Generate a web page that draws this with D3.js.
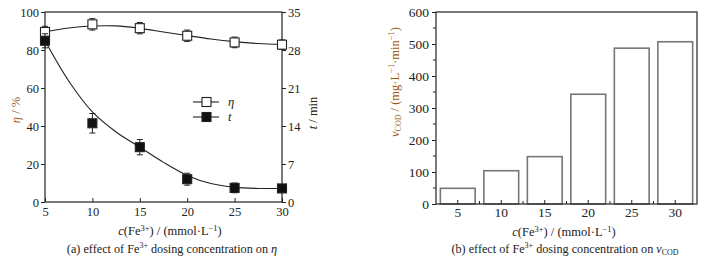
<!DOCTYPE html>
<html>
<head>
<meta charset="utf-8">
<script src="https://cdn.jsdelivr.net/npm/d3@7"></script>
<style>
  body { margin: 0; background: #fff; }
  svg { font-family: "Liberation Serif", "Times New Roman", serif; }
</style>
</head>
<body>
<svg id="chart" width="708" height="262"></svg>
<script>
// 投加浓度 c(Fe3+) / (mmol·L-1)
const doses = [5, 10, 15, 20, 25, 30];

// (a) 去除率 η (%) 与时间 t (min)
const etaValues = [89.5, 93.5, 91.5, 87.5, 84.0, 82.8];
const etaErr    = [3.0, 3.0, 3.0, 3.0, 2.8, 2.5];
const tValues   = [29.7, 14.5, 10.1, 4.2, 2.6, 2.5];
const tErr      = [1.3, 1.8, 1.4, 1.1, 0.9, 0.6];

// 拟合曲线
const etaFitX = [5, 7.5, 10, 12.5, 15, 17.5, 20, 22.5, 25, 27.5, 30];
const etaFitY = [89.5, 91.6, 92.6, 92.7, 91.4, 89.5, 87.6, 85.8, 84.4, 83.4, 82.8];
const tFitX   = [5, 7.5, 10, 12.5, 15, 17.5, 20, 22.5, 25, 27.5, 30];
const tFitY   = [29.7, 22.3, 16.6, 12.9, 10.1, 7.3, 4.9, 3.4, 2.7, 2.5, 2.5];

const etaTicks = [0, 20, 40, 60, 80, 100];
const tTicks   = [0, 7, 14, 21, 28, 35];

// (b) 速率 vCOD
const vcodValues = [49, 104, 148, 343, 487, 507];
const vcodTicks  = [0, 100, 200, 300, 400, 500, 600];

const svg = d3.select("#chart");
const labelColor = "#9a5b22";
const textColor = "#222";

// ---------- (a) ----------
const xA = d3.scaleLinear().domain([5, 30]).range([45, 282]);
const yEta = d3.scaleLinear().domain([0, 100]).range([202, 12]);
const yT = d3.scaleLinear().domain([0, 35]).range([202, 12]);

const gA = svg.append("g");

// 边框
gA.append("rect").attr("x", xA(5)).attr("y", yEta(100))
  .attr("width", xA(30) - xA(5)).attr("height", yEta(0) - yEta(100))
  .attr("fill", "none").attr("stroke", "#222").attr("stroke-width", 1.2);

const axL = gA.append("g").attr("transform", `translate(${xA(5)},0)`)
  .call(d3.axisLeft(yEta).tickValues(etaTicks).tickSize(4).tickPadding(2));
const axR = gA.append("g").attr("transform", `translate(${xA(30)},0)`)
  .call(d3.axisRight(yT).tickValues(tTicks).tickSize(4).tickPadding(2));
const axB = gA.append("g").attr("transform", `translate(0,${yEta(0)})`)
  .call(d3.axisBottom(xA).tickValues(doses).tickSize(-4).tickPadding(5));
[axL, axR, axB].forEach(a => {
  a.select(".domain").remove();
  a.selectAll("line").attr("stroke", "#222");
  a.selectAll("text").attr("fill", textColor).style("font-size", "12.5px")
    .style("font-family", "Liberation Serif, serif");
});
axL.selectAll("text").attr("dy", "0.35em");
axR.selectAll("text").attr("dy", "0.35em");
axB.selectAll("text").attr("dy", "0.75em");

// 曲线
const etaLine = d3.line().x(d => xA(d[0])).y(d => yEta(d[1])).curve(d3.curveCatmullRom);
const tLine = d3.line().x(d => xA(d[0])).y(d => yT(d[1])).curve(d3.curveCatmullRom);
gA.append("path").datum(etaFitX.map((x, i) => [x, etaFitY[i]]))
  .attr("d", etaLine).attr("fill", "none").attr("stroke", "#222").attr("stroke-width", 1.1);
gA.append("path").datum(tFitX.map((x, i) => [x, tFitY[i]]))
  .attr("d", tLine).attr("fill", "none").attr("stroke", "#222").attr("stroke-width", 1.1);

// 误差棒 + 标记
function drawSeries(vals, errs, y, filled) {
  const g = gA.append("g");
  doses.forEach((d, i) => {
    const cx = xA(d);
    const top = y(vals[i] + errs[i]), bot = y(vals[i] - errs[i]);
    g.append("line").attr("x1", cx).attr("x2", cx).attr("y1", top).attr("y2", bot)
      .attr("stroke", "#222").attr("stroke-width", 1);
    [top, bot].forEach(yy => g.append("line").attr("x1", cx - 3).attr("x2", cx + 3)
      .attr("y1", yy).attr("y2", yy).attr("stroke", "#222").attr("stroke-width", 1));
    g.append("rect").attr("x", cx - 4.5).attr("y", y(vals[i]) - 4.5)
      .attr("width", 9).attr("height", 9)
      .attr("fill", filled ? "#111" : "#fff").attr("stroke", "#222").attr("stroke-width", 1.1);
  });
}
drawSeries(etaValues, etaErr, yEta, false);
drawSeries(tValues, tErr, yT, true);

// 图例
const legend = gA.append("g").attr("transform", "translate(193,102)");
[["η", false], ["t", true]].forEach(([name, filled], i) => {
  const row = legend.append("g").attr("transform", `translate(0,${i * 15})`);
  row.append("line").attr("x1", 0).attr("x2", 26).attr("stroke", "#222").attr("stroke-width", 1.1);
  row.append("rect").attr("x", 9).attr("y", -4.5).attr("width", 9).attr("height", 9)
    .attr("fill", filled ? "#111" : "#fff").attr("stroke", "#222").attr("stroke-width", 1.1);
  row.append("text").attr("x", 35).attr("dy", "0.35em").attr("fill", textColor)
    .style("font-size", "12.5px").style("font-style", "italic").text(name);
});

// 轴标签
const etaLabel = gA.append("text").attr("transform", "translate(20,110) rotate(-90)")
  .attr("text-anchor", "middle").attr("fill", labelColor).style("font-size", "12.5px");
etaLabel.append("tspan").style("font-style", "italic").text("η");
etaLabel.append("tspan").text(" / %");

const tLabel = gA.append("text").attr("transform", "translate(317,113) rotate(-90)")
  .attr("text-anchor", "middle").attr("fill", textColor).style("font-size", "12.5px");
tLabel.append("tspan").style("font-style", "italic").text("t");
tLabel.append("tspan").text(" / min");

function concLabel(g, cx, y) {
  const t = g.append("text").attr("x", cx).attr("y", y).attr("text-anchor", "middle")
    .attr("fill", textColor).style("font-size", "12.5px");
  t.append("tspan").style("font-style", "italic").text("c");
  t.append("tspan").text("(Fe");
  t.append("tspan").attr("dy", "-4.5").style("font-size", "8.5px").text("3+");
  t.append("tspan").attr("dy", "4.5").text(") / (mmol·L");
  t.append("tspan").attr("dy", "-4.5").style("font-size", "8.5px").text("−1");
  t.append("tspan").attr("dy", "4.5").text(")");
}
concLabel(gA, 170, 235);

const capA = gA.append("text").attr("x", 172).attr("y", 253).attr("text-anchor", "middle")
  .attr("fill", textColor).style("font-size", "12.2px");
capA.append("tspan").text("(a) effect of Fe");
capA.append("tspan").attr("dy", "-5").style("font-size", "8px").text("3+");
capA.append("tspan").attr("dy", "5").text(" dosing concentration on ");
capA.append("tspan").style("font-style", "italic").text("η");

// ---------- (b) ----------
const xB = d3.scaleBand().domain(doses).range([436, 697]).paddingInner(0.2).paddingOuter(0.1);
const yB = d3.scaleLinear().domain([0, 600]).range([204, 12]);
const gB = svg.append("g");

gB.selectAll("rect.bar").data(doses).join("rect").attr("class", "bar")
  .attr("x", d => xB(d)).attr("y", (d, i) => yB(vcodValues[i]))
  .attr("width", xB.bandwidth()).attr("height", (d, i) => yB(0) - yB(vcodValues[i]))
  .attr("fill", "#fff").attr("stroke", "#777").attr("stroke-width", 1.6);

gB.append("rect").attr("x", 436).attr("y", yB(600))
  .attr("width", 697 - 436).attr("height", yB(0) - yB(600))
  .attr("fill", "none").attr("stroke", "#222").attr("stroke-width", 1.2);

const axBL = gB.append("g").attr("transform", "translate(436,0)")
  .call(d3.axisLeft(yB).tickValues(vcodTicks).tickSize(4).tickPadding(3));
const minorB = d3.range(50, 600, 100);
gB.append("g").selectAll("line").data(minorB).join("line")
  .attr("x1", 436).attr("x2", 433).attr("y1", d => yB(d)).attr("y2", d => yB(d))
  .attr("stroke", "#222");
const axBB = gB.append("g").attr("transform", `translate(0,${yB(0)})`)
  .call(d3.axisBottom(xB).tickSize(-4).tickPadding(3));
gB.append("g").selectAll("line").data(doses.slice(0, -1)).join("line")
  .attr("x1", d => xB(d) + xB.step() - (xB.step() - xB.bandwidth()) / 2)
  .attr("x2", d => xB(d) + xB.step() - (xB.step() - xB.bandwidth()) / 2)
  .attr("y1", yB(0)).attr("y2", yB(0) - 3).attr("stroke", "#222");
[axBL, axBB].forEach(a => {
  a.select(".domain").remove();
  a.selectAll("line").attr("stroke", "#222");
  a.selectAll("text").attr("fill", textColor).style("font-size", "13.5px")
    .style("font-family", "Liberation Serif, serif");
});
axBL.selectAll("text").attr("dy", "0.35em");
axBB.selectAll("text").attr("dy", "0.75em");

const vLabel = gB.append("text").attr("transform", "translate(399,82) rotate(-90)")
  .attr("text-anchor", "middle").attr("fill", labelColor).style("font-size", "12.5px");
vLabel.append("tspan").style("font-style", "italic").text("v");
vLabel.append("tspan").attr("dy", "2").style("font-size", "8px").text("COD");
vLabel.append("tspan").attr("dy", "-2").text(" / (mg·L");
vLabel.append("tspan").attr("dy", "-5").style("font-size", "8.5px").text("−1");
vLabel.append("tspan").attr("dy", "5").text("·min");
vLabel.append("tspan").attr("dy", "-5").style("font-size", "8.5px").text("−1");
vLabel.append("tspan").attr("dy", "5").text(")");

concLabel(gB, 564, 236);

const capB = gB.append("text").attr("x", 565).attr("y", 253).attr("text-anchor", "middle")
  .attr("fill", textColor).style("font-size", "12.2px");
capB.append("tspan").text("(b) effect of Fe");
capB.append("tspan").attr("dy", "-5").style("font-size", "8px").text("3+");
capB.append("tspan").attr("dy", "5").text(" dosing concentration on ");
capB.append("tspan").style("font-style", "italic").text("v");
capB.append("tspan").attr("dy", "2").style("font-size", "8px").text("COD");
</script>
</body>
</html>
